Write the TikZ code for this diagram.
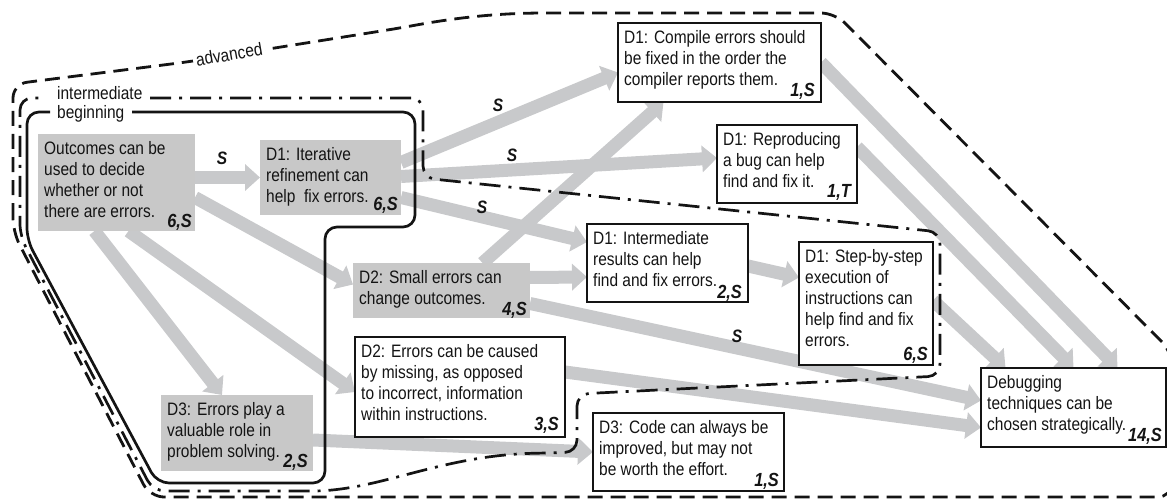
\documentclass[tikz,border=0pt]{standalone}
\usepackage{fontspec}
\setmainfont{Liberation Sans}[FakeStretch=0.86]
\usetikzlibrary{arrows.meta,calc,backgrounds}

\definecolor{boxgray}{RGB}{200,200,200}
\definecolor{arrgray}{RGB}{200,201,203}
\definecolor{ink}{RGB}{20,20,20}

\begin{document}
\begin{tikzpicture}[x=1pt,y=-1pt,
  every node/.style={font=\fontsize{18}{21}\selectfont, text=ink},
  cbox/.style={draw=ink, line width=1.7pt, fill=white, anchor=north west, inner sep=0pt, outer sep=0pt},
  gbox/.style={fill=boxgray, anchor=north west, inner sep=0pt, outer sep=0pt},
  txt/.style={anchor=north west, align=left, inner xsep=6pt, inner ysep=7pt},
  cnt/.style={anchor=base east, inner sep=0pt, font=\fontsize{19}{21}\selectfont\bfseries\itshape},
  lbl/.style={font=\fontsize{18}{21}\selectfont\bfseries\itshape},
  flow/.style={draw=arrgray, line width=13pt, -{Triangle[width=26pt,length=15pt]}},
  begline/.style={draw=ink, line width=2.7pt},
  midline/.style={draw=ink, line width=2.7pt, dash pattern=on 21pt off 8pt on 3pt off 8pt},
  advline/.style={draw=ink, line width=2.8pt, dash pattern=on 15pt off 8pt},
]
\clip (0,0) rectangle (1167,500);

% ---- concept boxes ----
\node[gbox, minimum width=157pt, minimum height=97pt] (out) at (38,134) {};
\node[txt] (outt) at (out.north west) {Outcomes can be\\used to decide\\whether or not\\there are errors.};
\node[cnt] (outn) at ($(out.south east)+(-3,-4)$) {6,S};

\node[gbox, minimum width=141pt, minimum height=75pt] (itr) at (260,140) {};
\node[txt] (itrt) at (itr.north west) {D1: Iterative\\refinement can\\help~ fix errors.};
\node[cnt] (itrn) at ($(itr.south east)+(-3,-5)$) {6,S};

\node[cbox, minimum width=203pt, minimum height=79pt] (cmp) at (618,23) {};
\node[txt] (cmpt) at (cmp.north west) {D1: Compile errors should\\be fixed in the order the\\compiler reports them.};
\node[cnt] (cmpn) at ($(cmp.south east)+(-6,-5)$) {1,S};

\node[cbox, minimum width=140pt, minimum height=78pt] (rep) at (717,125) {};
\node[txt] (rept) at (rep.north west) {D1: Reproducing\\a bug can help\\find and fix it.};
\node[cnt] (repn) at ($(rep.south east)+(-6,-6)$) {1,T};

\node[cbox, minimum width=161pt, minimum height=78pt] (int) at (587,224) {};
\node[txt] (intt) at (int.north west) {D1: Intermediate\\results can help\\find and fix errors.};
\node[cnt] (intn) at ($(int.south east)+(-6,-4)$) {2,S};

\node[gbox, minimum width=177pt, minimum height=55pt] (sml) at (353,263) {};
\node[txt] (smlt) at (sml.north west) {D2: Small errors can\\change outcomes.};
\node[cnt] (smln) at ($(sml.south east)+(-3,-3)$) {4,S};

\node[cbox, minimum width=134pt, minimum height=123pt] (stp) at (799,242) {};
\node[txt] (stpt) at (stp.north west) {D1: Step-by-step\\execution of\\instructions can\\help find and fix\\errors.};
\node[cnt] (stpn) at ($(stp.south east)+(-5,-5)$) {6,S};

\node[cbox, minimum width=210pt, minimum height=100pt] (cau) at (355,337) {};
\node[txt] (caut) at (cau.north west) {D2: Errors can be caused\\by missing, as opposed\\to incorrect, information\\within instructions.};
\node[cnt] (caun) at ($(cau.south east)+(-6,-7)$) {3,S};

\node[gbox, minimum width=152pt, minimum height=76pt] (ply) at (161,395) {};
\node[txt] (plyt) at (ply.north west) {D3: Errors play a\\valuable role in\\problem solving.};
\node[cnt] (plyn) at ($(ply.south east)+(-5,-4)$) {2,S};

\node[cbox, minimum width=191pt, minimum height=78pt] (cod) at (593,413) {};
\node[txt] (codt) at (cod.north west) {D3: Code can always be\\improved, but may not\\be worth the effort.};
\node[cnt] (codn) at ($(cod.south east)+(-5,-5)$) {1,S};

\node[cbox, minimum width=185pt, minimum height=79pt] (dbg) at (981,368) {};
\node[txt] (dbgt) at (dbg.north west) {Debugging\\techniques can be\\chosen strategically.};
\node[cnt] (dbgn) at ($(dbg.south east)+(-4,-6)$) {14,S};

% ---- region labels ----
\node[anchor=base west, inner sep=0pt] (lbeg) at (57,119) {beginning};
\node[anchor=base west, inner sep=0pt] (lint) at (57,100) {intermediate};
\node[anchor=base west, inner sep=3pt, fill=white, rotate=10] (ladv) at (194,67) {advanced};

% ---- arrow labels ----
\node[lbl] (s1) at (222,158) {S};
\node[lbl] (s2) at (498,105) {S};
\node[lbl] (s3) at (512,155) {S};
\node[lbl] (s4) at (482,207) {S};
\node[lbl] (s5) at (737,336) {S};

\begin{scope}[on background layer]
  % ---- dependencies ----
  \draw[flow] (out.east |- itr.west) -- (itr.west);
  \draw[flow] ([yshift=-15pt]out.east) -- ([yshift=6pt]sml.west);
  \draw[flow] ([xshift=-22pt]out.south) -- ([xshift=-15pt]ply.north);
  \draw[flow] ([xshift=12pt]out.south) -- ([yshift=-5pt]cau.west);
  \draw[flow] ([yshift=15pt]itr.east) -- ([yshift=-10pt]cmp.west);
  \draw[flow] ([yshift=1pt]itr.east) -- ([yshift=6pt]rep.west);
  \draw[flow] ([yshift=-20pt]itr.east) -- ([yshift=21pt]int.west);
  \draw[flow] ([xshift=41pt]sml.north) -- ([xshift=-56pt]cmp.south);
  \draw[flow] ([yshift=13pt]sml.east) -- ([yshift=-14pt]int.west);
  \draw[flow] ([yshift=-13pt]sml.east) -- ([yshift=7pt]dbg.west);
  \draw[flow] ([yshift=15pt]cau.east) -- ([yshift=-20pt]dbg.west);
  \draw[flow] ([yshift=-7pt]ply.east) -- (cod.west);
  \draw[flow] ([yshift=-3pt]int.east) -- ([yshift=26pt]stp.west);
  \draw[flow] ([yshift=3pt]stp.east) -- ([xshift=-68pt]dbg.north);
  \draw[flow] ([yshift=17pt]rep.east) -- (dbg.north);
  \draw[flow] (cmp.east) -- ([xshift=44pt]dbg.north);

  % ---- level boundaries ----
  \draw[begline, rounded corners=12pt] (132,112) -- (415,112) -- (415,227) -- (325,227)
     -- (325,483) -- (157,483) -- (27,240) -- (27,112) -- (50,112);
  \draw[midline, rounded corners=12pt] (150,98) -- (423,98) -- (423,178) -- (940,232)
     -- (940,376) -- (577,394) -- (577,452) -- (548,453)
     .. controls (440,455) and (380,491) .. (300,491) -- (153,491) -- (20,236) -- (20,98) -- (43,98);
  \draw[advline, rounded corners=14pt] (13,232) -- (13,84) -- (187,62) -- (400,28)
     .. controls (460,17) and (500,13) .. (560,13) -- (835,13) -- (1172,352)
     -- (1172,497) -- (150,497) -- cycle;
\end{scope}
\end{tikzpicture}
\end{document}
